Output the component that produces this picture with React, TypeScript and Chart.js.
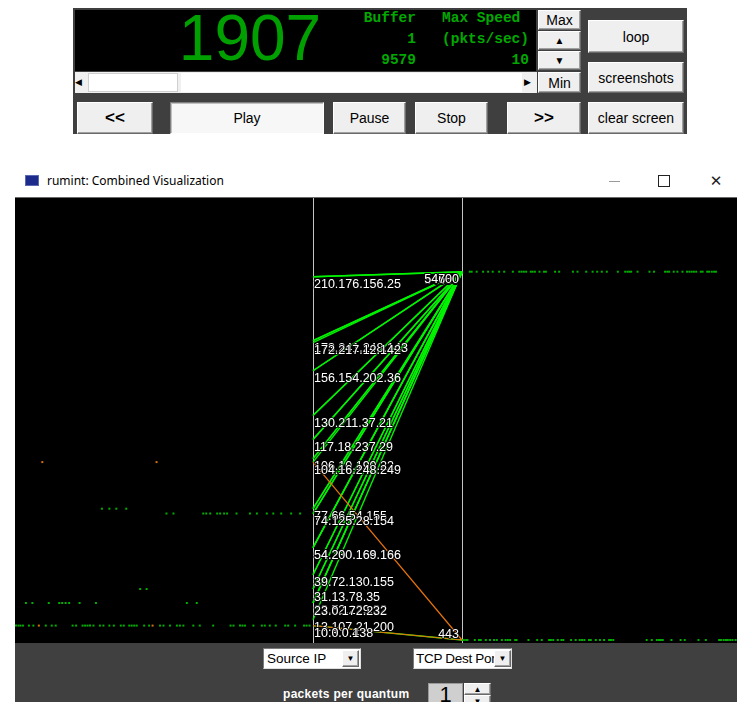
import React, { useEffect, useRef } from "react";
import { Chart, registerables } from "chart.js";

Chart.register(...registerables);

// ---------------- DATA ----------------
// Source IPs on the left parallel axis
const sourceIps = [
  "210.176.156.25", "173.241.248.143", "172.217.12.142", "156.154.202.36",
  "130.211.37.21", "117.18.237.29", "106.10.190.22", "104.16.248.249",
  "77.66.54.155", "74.125.28.154", "54.230.166.186", "54.200.169.166",
  "39.72.130.155", "31.13.78.35", "23.52.229.32", "23.0.172.232",
  "13.107.21.200", "10.3.0.4", "10.0.0.138",
];
// TCP destination ports on the right parallel axis
const destPorts = [54600, 54630, 54660, 54680, 54700, 443];

// Flows: source IP -> TCP dest port ("in" = green, "out" = orange)
const flowSrc = [
  "104.16.248.249", "10.0.0.138",
  "210.176.156.25", "210.176.156.25", "173.241.248.143", "173.241.248.143", "172.217.12.142",
  "156.154.202.36", "156.154.202.36", "130.211.37.21", "130.211.37.21", "117.18.237.29",
  "117.18.237.29", "106.10.190.22", "106.10.190.22", "104.16.248.249", "77.66.54.155",
  "77.66.54.155", "74.125.28.154", "74.125.28.154", "54.230.166.186", "54.230.166.186",
  "54.200.169.166", "39.72.130.155", "39.72.130.155", "31.13.78.35", "31.13.78.35",
  "23.52.229.32", "23.0.172.232", "23.0.172.232", "13.107.21.200", "10.3.0.4",
];
const flowPort = [
  443, 443,
  54680, 54630, 54600, 54660, 54630,
  54660, 54700, 54700, 54680, 54600,
  54630, 54680, 54700, 54630, 54660,
  54600, 54680, 54630, 54700, 54660,
  54600, 54630, 54700, 54660, 54680,
  54680, 54700, 54600, 54600, 443,
];
const flowKind = [
  "out", "out",
  "in", "in", "in", "in", "in",
  "in", "in", "in", "in", "in",
  "in", "in", "in", "in", "in",
  "in", "in", "in", "in", "in",
  "in", "in", "in", "in", "in",
  "in", "in", "in", "in", "in",
];

// Left strip: packet times (seconds) per source IP
const tIp104 = [5.5, 28.5];
const tIp77 = [17.5, 19.0, 20.4, 22.4];
const tIp74 = [30.5, 31.9, 37.9, 38.5, 39.3, 40.7, 41.3, 42.1, 42.7, 44.6, 47.3, 48.7, 50.7, 52.0, 53.6, 55.6, 57.4];
const tIp31 = [25.2, 26.5];
const tIp23 = [2.2, 3.5, 6.8, 8.9, 9.5, 10.2, 10.9, 13.0, 16.3, 34.6, 36.6];
const tIp10 = [0.2, 0.7, 1.1, 1.6, 2.8, 3.7, 6.2, 7.4, 8.2, 11.6, 12.3, 13.6, 14.1, 14.6, 15.1, 15.8, 17.1, 17.8, 19.0, 19.9, 21.3, 21.9, 23.0, 23.5, 24.0, 24.5, 26.0, 27.0, 29.2, 29.9, 31.2, 32.6, 33.2, 33.9, 35.9, 37.2, 39.9, 43.4, 44.0, 45.3, 45.8, 46.3, 48.0, 49.7, 50.3, 51.3, 52.5, 54.4, 55.0, 56.4, 58.2, 58.7, 59.3];
const tIp10out = [4.8, 27.7];

// Right strip: packet times (seconds) per dest port
const tPort54680 = [1.7, 2.1, 3.2, 4.6, 5.7, 6.7, 8.1, 9.2, 11.1, 12.5, 13.0, 13.5, 14.0, 15.0, 15.4, 15.9, 16.9, 17.9, 18.3, 20.3, 21.2, 24.2, 25.2, 27.1, 28.5, 29.5, 30.5, 31.6, 34.0, 35.6, 36.1, 36.5, 36.9, 38.3, 40.9, 41.9, 44.3, 44.8, 45.2, 46.2, 47.0, 48.1, 49.1, 49.6, 50.1, 50.6, 51.1, 52.1, 52.5, 53.5, 53.9, 54.5, 55.0, 55.4];
const tPort443 = [0.0, 0.4, 0.9, 1.2, 2.8, 3.7, 4.1, 5.2, 6.1, 7.0, 7.6, 8.7, 9.5, 10.0, 10.5, 11.6, 11.9, 14.5, 16.4, 17.4, 19.0, 19.4, 19.9, 20.9, 21.7, 22.1, 23.8, 24.8, 25.7, 26.2, 26.7, 27.7, 28.1, 29.2, 30.1, 31.0, 32.1, 32.5, 33.0, 40.3, 41.4, 42.5, 43.0, 43.4, 43.8, 45.7, 47.7, 48.6, 51.6, 53.2, 56.1, 56.5, 57.1, 57.6, 58.0, 58.5, 59.0, 59.7];

// ---------------- LAYOUT / STYLE ----------------
const W = 722;
const H = 445;
const AXIS_L = 298; // px inside canvas
const AXIS_R = 447;
const SPAN = 60; // seconds in each time strip
const GREEN = "#00f400";
const ORANGE = "#e8740c";
const DOT_G = "#00b000";
const DOT_O = "#d8700e";
const LABEL_FONT = '12.5px "Liberation Sans", Arial, sans-serif';

const ipVal = (s: string) => {
  const p = s.split(".").map(Number);
  return p[0] + p[1] / 256 + p[2] / 65536 + p[3] / 16777216;
};

const parallelAxes = {
  id: "parallelAxes",
  beforeDatasetsDraw(chart: any) {
    const { ctx, chartArea, scales } = chart;
    ctx.save();
    ctx.strokeStyle = "#c4c4c4";
    ctx.lineWidth = 1;
    [0, 1].forEach((v) => {
      const px = Math.round(scales.x.getPixelForValue(v)) + 0.5;
      ctx.beginPath();
      ctx.moveTo(px, chartArea.top);
      ctx.lineTo(px, chartArea.bottom);
      ctx.stroke();
    });
    ctx.restore();
  },
  afterDatasetsDraw(chart: any) {
    const { ctx, chartArea, scales } = chart;
    const xl = scales.x.getPixelForValue(0);
    const xr = scales.x.getPixelForValue(1);
    ctx.save();
    ctx.font = LABEL_FONT;
    ctx.textBaseline = "top";
    ctx.lineJoin = "round";
    ctx.lineWidth = 2;
    ctx.strokeStyle = "rgba(0,0,0,0.8)";
    ctx.fillStyle = "#ffffff";
    const place = (y: number) => Math.min(y + 2, chartArea.bottom - 15);
    ctx.textAlign = "left";
    sourceIps.forEach((ip) => {
      const y = place(scales.y.getPixelForValue(ipVal(ip)));
      ctx.strokeText(ip, xl + 1, y);
      ctx.fillText(ip, xl + 1, y);
    });
    ctx.textAlign = "right";
    destPorts.forEach((p) => {
      const y = place(scales.yPort.getPixelForValue(p));
      ctx.strokeText(String(p), xr - 3, y);
      ctx.fillText(String(p), xr - 3, y);
    });
    ctx.restore();
  },
};

function ParallelChart() {
  const ref = useRef<HTMLCanvasElement | null>(null);
  useEffect(() => {
    if (!ref.current) return;
    const flowSets = flowSrc.map((src, i) => ({
      data: [
        { x: 0, y: ipVal(src) },
        { x: 1, y: flowPort[i] / 256 },
      ],
      showLine: true,
      borderColor: flowKind[i] === "out" ? ORANGE : GREEN,
      borderWidth: flowKind[i] === "out" ? 1.2 : 1.4,
      pointRadius: 0,
      xAxisID: "x",
      yAxisID: "y",
    }));
    const leftRows = [
      { ip: "104.16.248.249", times: tIp104, color: DOT_O },
      { ip: "77.66.54.155", times: tIp77, color: DOT_G },
      { ip: "74.125.28.154", times: tIp74, color: DOT_G },
      { ip: "31.13.78.35", times: tIp31, color: DOT_G },
      { ip: "23.0.172.232", times: tIp23, color: DOT_G },
      { ip: "10.3.0.4", times: tIp10, color: DOT_G },
      { ip: "10.3.0.4", times: tIp10out, color: DOT_O },
    ];
    const rightRows = [
      { port: 54680, times: tPort54680, color: DOT_G },
      { port: 443, times: tPort443, color: DOT_G },
    ];
    const dotStyle = (color: string) => ({
      showLine: false,
      pointStyle: "rect",
      pointRadius: 1.4,
      pointBackgroundColor: color,
      backgroundColor: color,
      pointBorderWidth: 0,
      borderWidth: 0,
    });
    const leftSets = leftRows.map((r) => ({
      data: r.times.map((t) => ({ x: t, y: ipVal(r.ip) })),
      xAxisID: "xL",
      yAxisID: "y",
      ...dotStyle(r.color),
    }));
    const rightSets = rightRows.map((r) => ({
      data: r.times.map((t) => ({ x: t, y: r.port })),
      xAxisID: "xR",
      yAxisID: "yPort",
      ...dotStyle(r.color),
    }));
    const chart = new Chart(ref.current, {
      type: "scatter",
      data: { datasets: [...flowSets, ...leftSets, ...rightSets] as any },
      options: {
        animation: false,
        responsive: false,
        devicePixelRatio: 1,
        events: [],
        layout: { padding: 0, autoPadding: false },
        plugins: { legend: { display: false }, tooltip: { enabled: false } },
        scales: {
          x: { type: "linear", display: false, min: -AXIS_L / (AXIS_R - AXIS_L), max: (W - AXIS_L) / (AXIS_R - AXIS_L) },
          xL: { type: "linear", display: false, min: 0, max: (SPAN * W) / AXIS_L },
          xR: { type: "linear", display: false, min: (-SPAN * AXIS_R) / (W - AXIS_R), max: SPAN },
          y: { type: "linear", display: false, min: 0, max: 256 },
          yPort: { type: "linear", display: false, min: 0, max: 65536 },
        },
      } as any,
      plugins: [parallelAxes],
    });
    return () => chart.destroy();
  }, []);
  return <canvas ref={ref} width={W} height={H} style={{ display: "block", width: W, height: H }} />;
}

const UI_FONT = '"Liberation Sans", Arial, sans-serif';

function Btn(props: { x: number; y: number; w: number; h: number; children: any; bold?: boolean; pressed?: boolean; size?: number }) {
  const { x, y, w, h, children, bold, pressed, size } = props;
  return (
    <div
      style={{
        position: "absolute", left: x, top: y, width: w, height: h, boxSizing: "border-box",
        background: pressed ? "#f7f7f7" : "#efefef",
        borderStyle: "solid", borderWidth: 1,
        borderColor: pressed ? "#808080 #ffffff #ffffff #808080" : "#ffffff #6a6a6a #6a6a6a #ffffff",
        boxShadow: pressed ? "inset 1px 1px 0 #c0c0c0" : "inset -1px -1px 0 #a0a0a0",
        display: "flex", alignItems: "center", justifyContent: "center",
        fontFamily: UI_FONT, fontSize: size || 14, fontWeight: bold ? 700 : 400, color: "#000",
      }}
    >
      {children}
    </div>
  );
}

const abs = (x: number, y: number, w: number, h: number, extra: any = {}) => ({
  position: "absolute" as const, left: x, top: y, width: w, height: h, ...extra,
});

export default function App() {
  const mono = { fontFamily: '"Liberation Mono", "Courier New", monospace', fontSize: 14.5, fontWeight: 700, color: "#00a800", lineHeight: "21px", textAlign: "right" as const, whiteSpace: "pre" as const };
  return (
    <div style={{ position: "fixed", left: 0, top: 0, width: 737, height: 702, background: "#ffffff", overflow: "hidden" }}>
      {/* top control panel */}
      <div style={abs(73, 8, 614, 126, { background: "#3f3f3f" })} />
      <div style={abs(75, 10, 461, 61, { background: "#000" })} />
      <div style={abs(168, 7, 164, 63, { fontFamily: UI_FONT, fontSize: 64, lineHeight: "63px", color: "#00a000", textAlign: "center" })}>1907</div>
      <div style={abs(340, 8, 76, 63, mono)}>{"Buffer\n1\n9579"}</div>
      <div style={abs(425, 8, 104, 63, mono)}>{"Max Speed \n(pkts/sec)\n10"}</div>
      {/* scrollbar */}
      <div style={abs(75, 72, 462, 21, { background: "#f0f0f0" })} />
      <div style={abs(75, 77, 6, 10, { fontSize: 9, lineHeight: "10px", color: "#000", fontFamily: UI_FONT })}>◀</div>
      <div style={abs(88, 73, 90, 19, { background: "#fff", border: "1px solid #cfcfcf", boxSizing: "border-box" })} />
      <div style={abs(181, 73, 341, 19, { background: "#fff" })} />
      <div style={abs(524, 77, 8, 10, { fontSize: 9, lineHeight: "10px", color: "#000", fontFamily: UI_FONT })}>▶</div>
      <Btn x={538} y={10} w={43} h={20}>Max</Btn>
      <Btn x={538} y={31} w={43} h={19} size={10}>▲</Btn>
      <Btn x={538} y={51} w={43} h={19} size={10}>▼</Btn>
      <Btn x={538} y={72} w={43} h={21}>Min</Btn>
      <Btn x={588} y={20} w={96} h={33}>loop</Btn>
      <Btn x={588} y={62} w={96} h={31}>screenshots</Btn>
      <Btn x={588} y={102} w={96} h={32}>clear screen</Btn>
      <Btn x={77} y={102} w={76} h={32} bold size={17}>{"<<"}</Btn>
      <Btn x={170} y={102} w={154} h={32} pressed>Play</Btn>
      <Btn x={333} y={102} w={73} h={32}>Pause</Btn>
      <Btn x={415} y={102} w={73} h={32}>Stop</Btn>
      <Btn x={507} y={102} w={74} h={32} bold size={17}>{">>"}</Btn>

      {/* window title bar */}
      <div style={abs(25, 175, 14, 11, { background: "#1c2a8c", border: "1px solid #5a6ab0", boxSizing: "border-box" })} />
      <div style={abs(47, 172, 300, 18, { fontFamily: '"Noto Sans", "Open Sans", sans-serif', fontSize: 12, lineHeight: "18px", color: "#000" })}>
        rumint: Combined Visualization
      </div>
      <div style={abs(609, 181, 11, 1, { background: "#9a9a9a" })} />
      <div style={abs(658, 175, 12, 12, { border: "1px solid #222", boxSizing: "border-box" })} />
      <div style={abs(707, 171, 18, 20, { fontFamily: '"DejaVu Sans", sans-serif', fontSize: 15, lineHeight: "20px", color: "#222", textAlign: "center" })}>✕</div>

      {/* visualization */}
      <div style={abs(15, 197, 722, 1, { background: "#6a6a6a" })} />
      <div style={abs(15, 198, W, H, { background: "#000" })}>
        <ParallelChart />
      </div>

      {/* bottom control panel */}
      <div style={abs(15, 643, 722, 59, { background: "#404040" })} />
      <div style={abs(263, 648, 98, 21, { background: "#fff", border: "1px solid", borderColor: "#7a7a7a #e0e0e0 #e0e0e0 #7a7a7a", boxSizing: "border-box", fontFamily: UI_FONT, fontSize: 13.5, lineHeight: "19px", paddingLeft: 3, color: "#000", overflow: "hidden", whiteSpace: "nowrap" })}>
        Source IP
      </div>
      <Btn x={342} y={650} w={17} h={17} size={8}>▼</Btn>
      <div style={abs(413, 648, 99, 21, { background: "#fff", border: "1px solid", borderColor: "#7a7a7a #e0e0e0 #e0e0e0 #7a7a7a", boxSizing: "border-box", fontFamily: UI_FONT, fontSize: 13.5, lineHeight: "19px", paddingLeft: 2, color: "#000", overflow: "hidden", whiteSpace: "nowrap", letterSpacing: -0.3 })}>
        <span style={{ display: "inline-block", width: 79, overflow: "hidden", verticalAlign: "top" }}>TCP Dest Port</span>
      </div>
      <Btn x={494} y={650} w={17} h={17} size={8}>▼</Btn>
      <div style={abs(283, 686, 150, 16, { fontFamily: UI_FONT, fontSize: 12, fontWeight: 700, letterSpacing: 0.3, color: "#fff", lineHeight: "16px", whiteSpace: "nowrap" })}>
        packets per quantum
      </div>
      <div style={abs(428, 683, 35, 22, { background: "#cfcfcf", border: "1px solid #9a9a9a", boxSizing: "border-box", fontFamily: UI_FONT, fontSize: 22, lineHeight: "22px", textAlign: "center", color: "#000" })}>1</div>
      <Btn x={464} y={683} w={27} h={12} size={8}>▲</Btn>
      <Btn x={464} y={695} w={27} h={12} size={8}>▼</Btn>
    </div>
  );
}
